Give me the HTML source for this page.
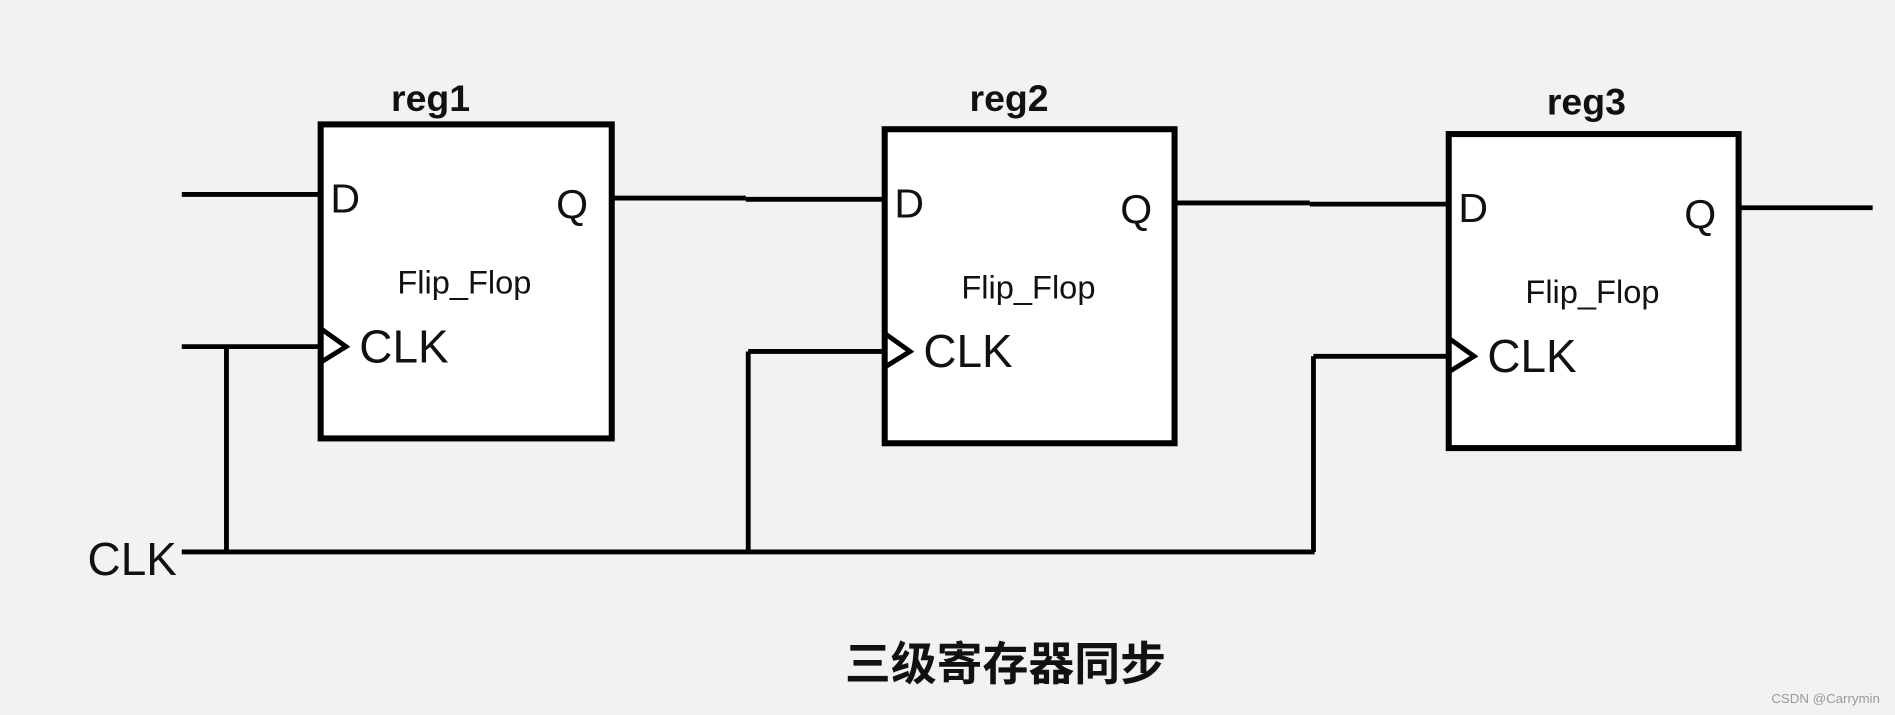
<!DOCTYPE html>
<html><head><meta charset="utf-8"><style>
html,body{margin:0;padding:0;background:#f2f2f4;}
svg{display:block;}
text{font-family:"Liberation Sans","Noto Sans CJK SC",sans-serif;fill:#111;}
</style></head><body>
<svg width="1895" height="715" viewBox="0 0 1568 592" xmlns="http://www.w3.org/2000/svg">
<rect width="1568" height="592" fill="#f2f2f4"/>
<g stroke="#000" stroke-width="5" fill="#fff">
<rect x="265" y="103" width="241" height="260"/>
<rect x="732" y="107" width="240" height="260"/>
<rect x="1199" y="111" width="240" height="260"/>
</g>
<g stroke="#000" stroke-width="4" fill="none">
<line x1="150" y1="161" x2="265" y2="161"/>
<line x1="506" y1="164" x2="617" y2="164"/>
<line x1="617" y1="165" x2="732" y2="165"/>
<line x1="972" y1="168" x2="1084" y2="168"/>
<line x1="1084" y1="169" x2="1199" y2="169"/>
<line x1="1439" y1="172" x2="1550" y2="172"/>
<line x1="150" y1="287" x2="265" y2="287"/>
<line x1="619" y1="291" x2="732" y2="291"/>
<line x1="1087" y1="295" x2="1199" y2="295"/>
<line x1="187" y1="287" x2="187" y2="457"/>
<line x1="619" y1="291" x2="619" y2="457"/>
<line x1="1087" y1="295" x2="1087" y2="457"/>
<line x1="150" y1="457" x2="1088" y2="457"/>
<polyline points="265,272 286,287 265,300"/>
<polyline points="732,276 753,291 732,304"/>
<polyline points="1199,280 1220,295 1199,308"/>
</g>
<g font-size="31" font-weight="bold" text-anchor="middle">
<text x="356" y="92">reg1</text>
<text x="835" y="92">reg2</text>
<text x="1313" y="95">reg3</text>
</g>
<g font-size="34">
<text x="273" y="176">D</text>
<text x="460" y="181">Q</text>
<text x="740" y="180">D</text>
<text x="927" y="185">Q</text>
<text x="1207" y="184">D</text>
<text x="1394" y="189">Q</text>
</g>
<g font-size="38">
<text x="297" y="300">CLK</text>
<text x="764" y="304">CLK</text>
<text x="1231" y="308">CLK</text>
<text x="72" y="476">CLK</text>
</g>
<g font-size="27" text-anchor="middle">
<text x="384" y="243">Flip_Flop</text>
<text x="851" y="247">Flip_Flop</text>
<text x="1318" y="251">Flip_Flop</text>
</g>
<text x="832" y="563" font-size="38" font-weight="bold" text-anchor="middle">三级寄存器同步</text>
<text x="1556" y="582" font-size="11" text-anchor="end" style="fill:#999">CSDN @Carrymin</text>
</svg>
</body></html>
